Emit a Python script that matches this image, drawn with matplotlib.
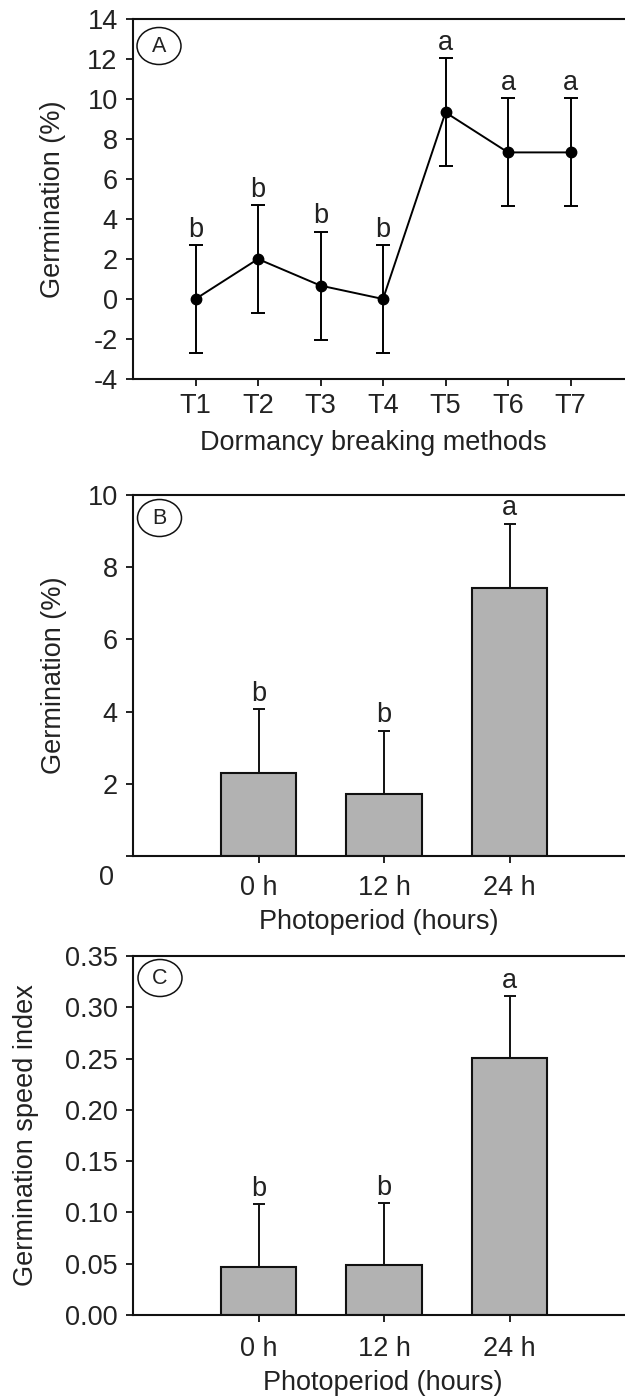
import matplotlib
matplotlib.use("Agg")
import matplotlib.pyplot as plt
from matplotlib.patches import Ellipse
import numpy as np

plt.rcParams['font.family'] = ['Liberation Sans', 'DejaVu Sans']
plt.rcParams['axes.unicode_minus'] = False

# ---- Data ----
treatments = ["T1", "T2", "T3", "T4", "T5", "T6", "T7"]
germ_A = [0.0, 2.0, 0.67, 0.0, 9.33, 7.33, 7.33]
err_A = [2.7, 2.7, 2.7, 2.7, 2.7, 2.7, 2.7]
letters_A = ["b", "b", "b", "b", "a", "a", "a"]

photoperiods = ["0 h", "12 h", "24 h"]
germ_B = [2.3, 1.72, 7.43]
err_B = [1.77, 1.75, 1.78]
letters_B = ["b", "b", "a"]

gsi_C = [0.047, 0.049, 0.251]
err_C = [0.061, 0.060, 0.060]
letters_C = ["b", "b", "a"]

FS = 19.5
TXT = '#222222'
BAR = '#b2b2b2'
LW_SPINE = 1.5

fig = plt.figure(figsize=(6.25, 13.98), dpi=100)
W, H = 625.0, 1398.0

def make_ax(top_px, bot_px, width_px):
    left = 133 / W
    return fig.add_axes([left, 1 - bot_px / H, width_px / W, (bot_px - top_px) / H])

def style(ax):
    ax.spines['right'].set_visible(False)
    for s in ('left', 'top', 'bottom'):
        ax.spines[s].set_linewidth(LW_SPINE)
        ax.spines[s].set_color('#111111')
    ax.tick_params(axis='both', direction='out', length=5, width=1.3,
                   labelsize=FS, colors='#111111', labelcolor=TXT)
    ax.tick_params(axis='y', pad=6)

def circle_label(cx, cy, letter):
    e = Ellipse((cx / W, 1 - cy / H), 44 / W, 37 / H, transform=fig.transFigure,
                facecolor='none', edgecolor='#111111', linewidth=1.1)
    fig.add_artist(e)
    fig.text(cx / W, 1 - cy / H, letter, ha='center', va='center',
             fontsize=15.5, color=TXT)

def letters(ax, xs, tops, labs):
    for x, t, l in zip(xs, tops, labs):
        ax.annotate(l, (x, t), xytext=(0, 6), textcoords='offset points',
                    ha='center', va='baseline', fontsize=FS, color=TXT)

# ---- Panel A ----
axA = make_ax(19, 379, 500)
xA = np.arange(1, len(treatments) + 1)
axA.errorbar(xA, germ_A, yerr=err_A, fmt='-o', color='black', lw=1.4,
             ms=7.5, elinewidth=1.4, capsize=4.7, capthick=1.4)
axA.set_xlim(0, 8)
axA.set_ylim(-4, 14)
axA.set_yticks(np.arange(-4, 15, 2))
axA.set_xticks(xA)
axA.set_xticklabels(treatments)
style(axA)
axA.tick_params(axis='x', pad=5)
axA.set_ylabel("Germination (%)", fontsize=FS, color=TXT, va='center')
axA.yaxis.set_label_coords(-0.16, 0.5)
axA.set_xlabel("Dormancy breaking methods", fontsize=FS, color=TXT, va='center')
axA.xaxis.set_label_coords(0.481, -0.178)
letters(axA, xA, np.array(germ_A) + np.array(err_A), letters_A)
circle_label(159, 46, "A")

# ---- Panel B ----
axB = make_ax(495, 856, 502)
xB = np.arange(1, len(photoperiods) + 1)
axB.bar(xB, germ_B, width=0.6, color=BAR, edgecolor='#111111', linewidth=1.5, zorder=2)
axB.errorbar(xB, germ_B, yerr=[np.zeros(3), err_B], fmt='none', ecolor='#111111',
             elinewidth=1.4, capsize=4, capthick=1.4, zorder=3)
axB.set_xlim(0, 4)
axB.set_ylim(0, 10)
axB.set_yticks(np.arange(0, 11, 2))
axB.set_yticklabels([''] + [str(v) for v in range(2, 11, 2)])
axB.set_xticks(xB)
axB.set_xticklabels(photoperiods)
style(axB)
axB.tick_params(axis='x', pad=9)
axB.set_ylabel("Germination (%)", fontsize=FS, color=TXT, va='center')
axB.yaxis.set_label_coords(-0.157, 0.5)
axB.set_xlabel("Photoperiod (hours)", fontsize=FS, color=TXT, va='center')
axB.xaxis.set_label_coords(0.489, -0.183)
fig.text(107 / W, 1 - 878 / H, "0", ha='center', va='center', fontsize=FS, color=TXT)
letters(axB, xB, np.array(germ_B) + np.array(err_B), letters_B)
circle_label(159.5, 518, "B")

# ---- Panel C ----
axC = make_ax(956, 1315, 502)
axC.bar(xB, gsi_C, width=0.6, color=BAR, edgecolor='#111111', linewidth=1.5, zorder=2)
axC.errorbar(xB, gsi_C, yerr=[np.zeros(3), err_C], fmt='none', ecolor='#111111',
             elinewidth=1.4, capsize=4, capthick=1.4, zorder=3)
axC.set_xlim(0, 4)
axC.set_ylim(0, 0.35)
axC.set_yticks(np.arange(0, 0.351, 0.05))
axC.set_yticklabels([f"{v:.2f}" for v in np.arange(0, 0.351, 0.05)])
axC.set_xticks(xB)
axC.set_xticklabels(photoperiods)
style(axC)
axC.tick_params(axis='x', pad=10)
axC.set_ylabel("Germination speed index", fontsize=FS, color=TXT, va='center')
axC.yaxis.set_label_coords(-0.213, 0.5)
axC.set_xlabel("Photoperiod (hours)", fontsize=FS, color=TXT, va='center')
axC.xaxis.set_label_coords(0.497, -0.189)
letters(axC, xB, np.array(gsi_C) + np.array(err_C), letters_C)
circle_label(160, 978, "C")

fig.savefig("out.png", dpi=100)
